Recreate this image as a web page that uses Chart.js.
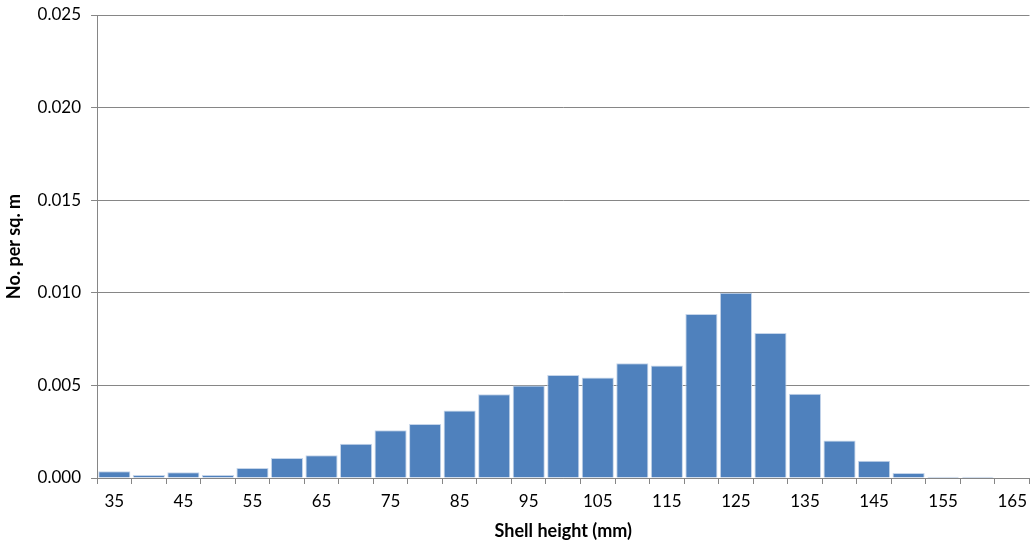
<!DOCTYPE html>
<html>
<head>
<meta charset="utf-8">
<script src="https://cdn.jsdelivr.net/npm/chart.js@4"></script>
<style>
  body { margin: 0; background: #fff; }
  #wrap { width: 1034px; height: 545px; }
</style>
</head>
<body>
<div id="wrap"><canvas id="shellChart"></canvas></div>
<script>
// shell height classes (mm) and density per sq. m
const heights = [35, 40, 45, 50, 55, 60, 65, 70, 75, 80, 85, 90, 95, 100, 105,
                 110, 115, 120, 125, 130, 135, 140, 145, 150, 155, 160, 165];
const density = [0.00036, 0.00016, 0.00031, 0.00016, 0.00054, 0.00108, 0.00123,
                 0.00185, 0.00258, 0.00292, 0.00364, 0.00452, 0.00500, 0.00556,
                 0.00543, 0.00619, 0.00608, 0.00885, 0.01000, 0.00783, 0.00455,
                 0.00203, 0.00093, 0.00027, 0.00007, 0.00007, 0];
const yTicks = [0, 0.005, 0.010, 0.015, 0.020, 0.025];

const fontFamily = 'Lato, "Open Sans", sans-serif';

const ctx = document.getElementById('shellChart').getContext('2d');
new Chart(ctx, {
    type: 'bar',
    data: {
        labels: heights,
        datasets: [{
            label: 'No. per sq. m',
            data: density,
            backgroundColor: '#4F81BD',
            borderColor: '#C5D5EA',
            borderWidth: 1,
            barPercentage: 1,
            categoryPercentage: 0.93
        }]
    },
    options: {
        responsive: true,
        maintainAspectRatio: false,
        animation: false,
        layout: { padding: { top: 0, left: 3, right: 0, bottom: 3 } },
        plugins: {
            legend: { display: false },
            tooltip: { enabled: false }
        },
        scales: {
            x: {
                offset: true,
                grid: {
                    offset: true,
                    drawOnChartArea: false,
                    color: '#868686',
                    tickLength: 6
                },
                border: { color: '#868686' },
                ticks: {
                    autoSkip: false,
                    maxRotation: 0,
                    color: '#000',
                    font: { family: fontFamily, size: 17 },
                    padding: 7,
                    callback: function (value, index) {
                        return index % 2 === 0 ? String(heights[index]) : '';
                    }
                },
                title: {
                    display: true,
                    text: 'Shell height (mm)',
                    color: '#000',
                    font: { family: fontFamily, size: 18, weight: 'bold' },
                    padding: { top: 2, bottom: 0 }
                }
            },
            y: {
                min: 0,
                max: 0.025,
                afterBuildTicks: function (axis) {
                    axis.ticks = yTicks.map(v => ({ value: v }));
                },
                grid: {
                    color: '#868686',
                    tickLength: 6
                },
                border: { color: '#868686' },
                ticks: {
                    color: '#000',
                    font: { family: fontFamily, size: 17, lineHeight: 1.4 },
                    padding: 10,
                    callback: v => Number(v).toFixed(3)
                },
                afterFit: function (axis) {
                    axis.paddingTop = 15;
                },
                title: {
                    display: true,
                    text: 'No. per sq. m',
                    color: '#000',
                    font: { family: fontFamily, size: 18, weight: 'bold' },
                    padding: { top: 0, bottom: 3 }
                }
            }
        }
    }
});
</script>
</body>
</html>
